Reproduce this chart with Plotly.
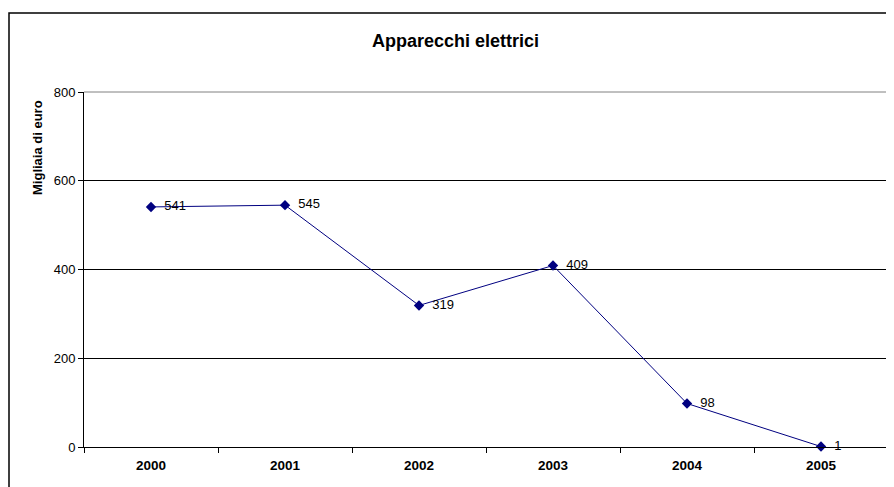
import plotly.graph_objects as go

years = ["2000", "2001", "2002", "2003", "2004", "2005"]
values = [541, 545, 319, 409, 98, 1]
y_ticks = [0, 200, 400, 600, 800]
title_text = "Apparecchi elettrici"
y_title = "Migliaia di euro"

W, H = 894, 487
OFF = 8  # page body margin
# plot area in screen pixels: x 84..888, y 92..447
SX0, SX1, SY0, SY1 = 84, 888, 92, 447
L = SX0 - OFF
T = SY0 - OFF
pw = SX1 - SX0
ph = SY1 - SY0
R = W - L - pw
B = H - T - ph

def px_x(x):
    return (x - SX0) / pw

def px_y(y):
    return (SY1 - y) / ph

FONT = "Liberation Sans, Arial"
NB = "\u00a0\u00a0"

fig = go.Figure()
fig.add_trace(go.Scatter(
    x=years, y=values, mode="lines+markers+text",
    text=[NB + str(v) for v in values], textposition="middle right",
    textfont=dict(family=FONT, size=13, color="black"),
    line=dict(color="#000080", width=1),
    marker=dict(symbol="diamond", size=8, color="#000080"),
    cliponaxis=False, showlegend=False,
))

fig.update_layout(
    width=W, height=H,
    margin=dict(l=L, r=R, t=T, b=B),
    paper_bgcolor="white", plot_bgcolor="white",
    font=dict(family=FONT, size=13, color="black"),
    xaxis=dict(
        type="category", range=[-0.5, 5.5], tickson="boundaries",
        ticks="outside", ticklen=5, tickcolor="black",
        showline=True, linecolor="black", linewidth=1,
        showgrid=False, zeroline=False, ticklabelstandoff=6,
        tickfont=dict(family=FONT, size=13.5, color="black", weight="bold"),
    ),
    yaxis=dict(
        range=[0, 800], tickvals=y_ticks, ticks="outside", ticklen=5, tickcolor="black",
        showline=True, linecolor="black", linewidth=1,
        showgrid=True, gridcolor="black", gridwidth=1, zeroline=False,
        tickfont=dict(family=FONT, size=13, color="black"),
    ),
    shapes=[
        dict(type="line", xref="paper", yref="paper", x0=0, x1=1, y0=1, y1=1,
             line=dict(color="#808080", width=1), layer="above"),
        dict(type="line", xref="paper", yref="paper", x0=1, x1=1, y0=0, y1=1,
             line=dict(color="#808080", width=1), layer="above"),
        dict(type="rect", xref="paper", yref="paper",
             x0=px_x(9), x1=px_x(910), y0=px_y(500), y1=px_y(13),
             line=dict(color="black", width=1.5), fillcolor="rgba(0,0,0,0)", layer="above"),
    ],
    annotations=[
        dict(text=title_text, xref="paper", yref="paper", x=px_x(455), y=px_y(41),
             showarrow=False, xanchor="center", yanchor="middle",
             font=dict(family=FONT, size=18, color="black", weight="bold")),
        dict(text=y_title, xref="paper", yref="paper", x=px_x(37), y=px_y(148),
             showarrow=False, xanchor="center", yanchor="middle", textangle=-90,
             font=dict(family=FONT, size=13, color="black", weight="bold")),
    ],
)

fig.write_html("out.html")
